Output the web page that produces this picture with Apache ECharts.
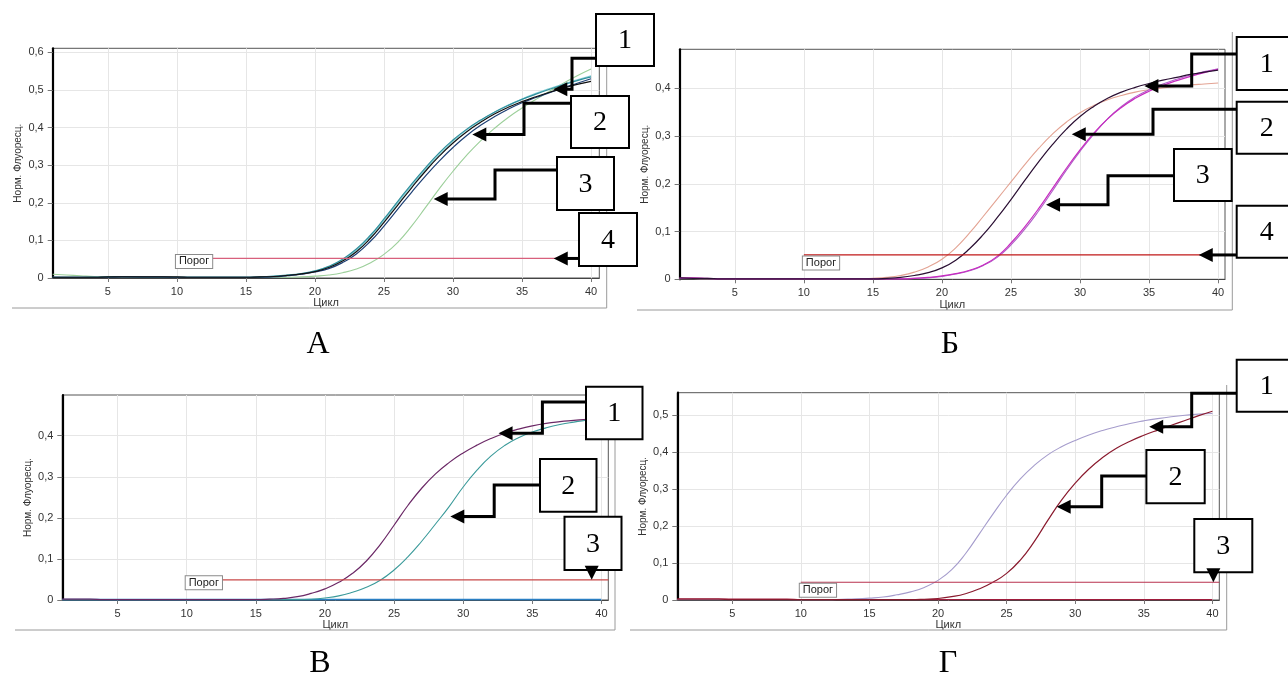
<!DOCTYPE html>
<html>
<head>
<meta charset="utf-8">
<script src="https://cdn.jsdelivr.net/npm/echarts@6/dist/echarts.min.js"></script>
<style>
  html, body { margin: 0; padding: 0; background: #fff; }
  #chart { width: 1288px; height: 688px; }
</style>
</head>
<body>
<div id="chart"></div>
<script>
// ---- data -------------------------------------------------------------
const cycles = [1,2,3,4,5,6,7,8,9,10,11,12,13,14,15,16,17,18,19,20,
                21,22,23,24,25,26,27,28,29,30,31,32,33,34,35,36,37,38,39,40];

const xTickValues = [5, 10, 15, 20, 25, 30, 35, 40];
const yTicksA = [0, 0.1, 0.2, 0.3, 0.4, 0.5, 0.6];
const yTicksB = [0, 0.1, 0.2, 0.3, 0.4];
const yTicksV = [0, 0.1, 0.2, 0.3, 0.4];
const yTicksG = [0, 0.1, 0.2, 0.3, 0.4, 0.5];

const thresholdSpan = [10, 40.5];
const thresholdA = 0.052;
const thresholdB = 0.051;
const thresholdV = 0.049;
const thresholdG = 0.048;

// panel А
const aBlack = [0.002,0.002,0.002,0.002,0.003,0.003,0.003,0.003,0.003,0.003,
                0.002,0.002,0.002,0.002,0.002,0.003,0.004,0.007,0.011,0.017,
                0.028,0.045,0.070,0.105,0.148,0.194,0.240,0.284,0.324,0.359,
                0.389,0.414,0.436,0.454,0.469,0.482,0.494,0.505,0.515,0.523];
const aNavy  = [0.002,0.002,0.002,0.002,0.002,0.003,0.003,0.003,0.003,0.002,
                0.002,0.002,0.002,0.002,0.002,0.002,0.003,0.006,0.010,0.016,
                0.025,0.041,0.064,0.097,0.138,0.183,0.228,0.271,0.311,0.347,
                0.379,0.406,0.429,0.449,0.466,0.480,0.493,0.506,0.518,0.530];
const aTeal  = [0.002,0.002,0.002,0.002,0.003,0.004,0.003,0.002,0.002,0.002,
                0.002,0.002,0.002,0.002,0.002,0.003,0.005,0.008,0.012,0.019,
                0.031,0.050,0.077,0.113,0.157,0.204,0.250,0.293,0.333,0.367,
                0.396,0.420,0.441,0.459,0.475,0.489,0.502,0.514,0.525,0.535];
const aCyan  = [0.002,0.002,0.002,0.002,0.002,0.002,0.002,0.002,0.002,0.002,
                0.002,0.002,0.002,0.002,0.002,0.003,0.004,0.007,0.011,0.018,
                0.030,0.048,0.074,0.110,0.153,0.200,0.246,0.289,0.329,0.364,
                0.394,0.419,0.441,0.460,0.476,0.491,0.504,0.516,0.527,0.538];
const aGreen = [0.010,0.008,0.006,0.004,0.003,0.002,0.002,0.002,0.002,0.002,
                0.002,0.002,0.002,0.002,0.002,0.002,0.002,0.002,0.003,0.005,
                0.008,0.014,0.024,0.040,0.063,0.095,0.138,0.187,0.237,0.284,
                0.327,0.365,0.398,0.427,0.452,0.475,0.497,0.518,0.538,0.556];

// panel Б
const bSalmon  = [0.002,0.002,0.001,0.001,0.001,0.001,0.001,0.001,0.001,0.001,
                  0.001,0.001,0.001,0.001,0.002,0.004,0.008,0.015,0.026,0.042,
                  0.066,0.097,0.132,0.168,0.204,0.240,0.274,0.304,0.329,0.349,
                  0.364,0.376,0.385,0.392,0.397,0.401,0.404,0.407,0.409,0.411];
const bDark    = [0.003,0.002,0.002,0.001,0.001,0.001,0.001,0.001,0.001,0.001,
                  0.001,0.001,0.001,0.001,0.001,0.002,0.004,0.008,0.014,0.024,
                  0.040,0.064,0.094,0.129,0.167,0.207,0.246,0.282,0.314,0.341,
                  0.362,0.379,0.392,0.402,0.410,0.417,0.423,0.429,0.434,0.438];
const bMagenta = [0.003,0.003,0.002,0.001,0.001,0.001,0.001,0.001,0.001,0.001,
                  0.001,0.001,0.001,0.001,0.001,0.001,0.001,0.002,0.004,0.007,
                  0.012,0.019,0.030,0.048,0.076,0.110,0.148,0.190,0.232,0.271,
                  0.306,0.336,0.360,0.379,0.394,0.406,0.416,0.425,0.433,0.440];
const bViolet  = [0.002,0.002,0.001,0.001,0.001,0.001,0.001,0.001,0.001,0.001,
                  0.001,0.001,0.001,0.001,0.001,0.001,0.001,0.002,0.003,0.006,
                  0.011,0.018,0.029,0.046,0.072,0.105,0.143,0.185,0.228,0.268,
                  0.304,0.336,0.362,0.382,0.397,0.409,0.419,0.428,0.435,0.441];

// panel В
const vPurple = [0.002,0.002,0.002,0.001,0.001,0.001,0.001,0.001,0.001,0.001,
                 0.001,0.001,0.001,0.001,0.001,0.002,0.004,0.008,0.016,0.027,
                 0.043,0.065,0.095,0.135,0.182,0.230,0.272,0.307,0.335,0.358,
                 0.377,0.393,0.406,0.416,0.424,0.430,0.434,0.437,0.440,0.442];
const vTeal   = [0.001,0.001,0.001,0.001,0.001,0.001,0.001,0.001,0.001,0.001,
                 0.001,0.001,0.001,0.001,0.001,0.001,0.001,0.001,0.002,0.005,
                 0.010,0.019,0.031,0.048,0.073,0.105,0.143,0.185,0.228,0.275,
                 0.316,0.350,0.376,0.395,0.409,0.419,0.427,0.433,0.438,0.443];
const vNeg    = [0.001,0.001,0.001,0.001,0.001,0.001,0.001,0.001,0.001,0.001,
                 0.001,0.001,0.001,0.001,0.001,0.001,0.001,0.001,0.001,0.001,
                 0.001,0.001,0.001,0.001,0.001,0.001,0.001,0.001,0.001,0.001,
                 0.001,0.001,0.001,0.001,0.001,0.001,0.001,0.001,0.001,0.001];

// panel Г
const gLavender = [0.001,0.001,0.001,0.001,0.001,0.001,0.001,0.001,0.001,0.001,
                   0.001,0.001,0.002,0.003,0.005,0.008,0.014,0.022,0.034,0.053,
                   0.082,0.125,0.178,0.232,0.283,0.327,0.363,0.392,0.414,0.431,
                   0.446,0.458,0.468,0.477,0.484,0.490,0.495,0.499,0.502,0.504];
const gRed      = [0.002,0.002,0.002,0.002,0.001,0.001,0.001,0.001,0.001,0.001,
                   0.001,0.001,0.001,0.001,0.001,0.001,0.001,0.001,0.002,0.004,
                   0.009,0.017,0.030,0.048,0.072,0.108,0.157,0.215,0.270,0.316,
                   0.354,0.385,0.410,0.429,0.445,0.459,0.472,0.485,0.498,0.510];
const gNeg      = [0.003,0.003,0.003,0.003,0.002,0.002,0.002,0.002,0.002,0.001,
                   0.001,0.001,0.001,0.001,0.001,0.001,0.001,0.001,0.001,0.001,
                   0.001,0.001,0.001,0.001,0.001,0.001,0.001,0.001,0.001,0.001,
                   0.001,0.001,0.001,0.001,0.001,0.001,0.001,0.001,0.001,0.001];

// ---- layout & styling -------------------------------------------------
const panels = [
  {
    letter: 'А', letterPos: [318, 345],
    grid: { left: 52.7, top: 48.3, width: 546.6, height: 229.7 },
    xMax: 40.6, yMax: 0.611, yTicks: yTicksA,
    threshold: thresholdA, thrSpan: [10, 40], thrColor: '#d8607c', thrLabelDy: 3,
    curves: [
      { values: aGreen, color: '#9ccf9a', width: 1.1 },
      { values: aCyan,  color: '#86cfd6', width: 1.2 },
      { values: aTeal,  color: '#2f8f9c', width: 1.2 },
      { values: aNavy,  color: '#1d3f74', width: 1.2 },
      { values: aBlack, color: '#111111', width: 1.2 }
    ],
    frame: { right: 606.7, top: 48, bottom: 308, left: 12 },
    callouts: [
      { text: '1', box: [596, 14, 58, 52],  fromY: 58.3,  elbowX: 572, tip: [37.27, 0.502] },
      { text: '2', box: [571, 96, 58, 52],  fromY: 103.3, elbowX: 524, tip: [31.4, 0.382] },
      { text: '3', box: [557, 157, 57, 53], fromY: 170,   elbowX: 495, tip: [28.6, 0.21] },
      { text: '4', box: [579, 213, 58, 53], tip: [37.3, thresholdA] }
    ]
  },
  {
    letter: 'Б', letterPos: [950, 345],
    grid: { left: 679.6, top: 49.3, width: 545.4, height: 230 },
    xMax: 40.5, yMax: 0.4817, yTicks: yTicksB,
    threshold: thresholdB, thrSpan: thresholdSpan, thrColor: '#c01818', thrLabelDy: 8,
    curves: [
      { values: bSalmon,  color: '#e3a393', width: 1.1 },
      { values: bViolet,  color: '#b060c8', width: 1.1 },
      { values: bMagenta, color: '#c72cc0', width: 1.2 },
      { values: bDark,    color: '#2a0f33', width: 1.2 }
    ],
    frame: { right: 1232.3, top: 32, bottom: 310, left: 637 },
    callouts: [
      { text: '1', box: [1236.7, 37, 60, 53],    fromY: 54,    elbowX: 1191.7, tip: [34.66, 0.405] },
      { text: '2', box: [1236.7, 101.7, 60, 52], fromY: 109.3, elbowX: 1153,   tip: [29.4, 0.304] },
      { text: '3', box: [1174, 149, 57.7, 52],   fromY: 175.7, elbowX: 1108,   tip: [27.54, 0.156] },
      { text: '4', box: [1236.7, 205.7, 60, 52], tip: [38.6, thresholdB] }
    ]
  },
  {
    letter: 'В', letterPos: [320, 664],
    grid: { left: 62.3, top: 395, width: 546, height: 205 },
    xMax: 40.5, yMax: 0.499, yTicks: yTicksV,
    threshold: thresholdV, thrSpan: thresholdSpan, thrColor: '#c84848', thrLabelDy: 3,
    curves: [
      { values: vNeg,    color: '#2a7fc4', width: 1.6 },
      { values: vTeal,   color: '#3a9a9a', width: 1.1 },
      { values: vPurple, color: '#6b2866', width: 1.2 }
    ],
    frame: { right: 615, top: 395, bottom: 630, left: 15 },
    callouts: [
      { text: '1', box: [586, 386.7, 56.5, 52.6], fromY: 402,  elbowX: 542.4, tip: [32.56, 0.4056] },
      { text: '2', box: [540, 459, 56.5, 52.7],   fromY: 485,  elbowX: 494.2, tip: [29.07, 0.203] },
      { text: '3', box: [564.5, 516.7, 57, 53.3], down: true, tip: [39.3, thresholdV] }
    ]
  },
  {
    letter: 'Г', letterPos: [948, 664],
    grid: { left: 677.3, top: 392.7, width: 542, height: 207.3 },
    xMax: 40.5, yMax: 0.56, yTicks: yTicksG,
    threshold: thresholdG, thrSpan: thresholdSpan, thrColor: '#b8304e', thrLabelDy: 8,
    curves: [
      { values: gNeg,      color: '#a01c3c', width: 1.4 },
      { values: gLavender, color: '#a59ccc', width: 1.1 },
      { values: gRed,      color: '#8a1a2e', width: 1.2 }
    ],
    frame: { right: 1226.7, top: 385, bottom: 630, left: 630 },
    callouts: [
      { text: '1', box: [1236.7, 359.7, 60, 52],   fromY: 393.3, elbowX: 1191.7, tip: [35.39, 0.468] },
      { text: '2', box: [1146.4, 450, 58.3, 53.3], fromY: 476,   elbowX: 1101.7, tip: [28.65, 0.252] },
      { text: '3', box: [1194.3, 519, 58, 53.3],   down: true, tip: [40.07, thresholdG] }
    ]
  }
];

const sansFont = "'Liberation Sans', Arial, sans-serif";
const serifFont = "'Liberation Serif', 'Times New Roman', serif";
const fmtValue = v => (v === 0 ? '0' : v.toFixed(1).replace('.', ','));

// ---- option -----------------------------------------------------------
const grids = [], xAxes = [], yAxes = [], series = [];

panels.forEach((p, gi) => {
  grids.push(Object.assign({
    show: true, borderColor: '#555', borderWidth: 1, backgroundColor: '#fff', containLabel: false
  }, p.grid));

  xAxes.push({
    type: 'value', gridIndex: gi, min: 1, max: p.xMax,
    name: 'Цикл', nameLocation: 'middle', nameGap: 19,
    nameTextStyle: { fontFamily: sansFont, fontSize: 11, color: '#333' },
    axisLine: { show: true, onZero: false, lineStyle: { color: '#444', width: 1 } },
    axisTick: { show: true, length: 4, customValues: xTickValues, lineStyle: { color: '#777' } },
    axisLabel: { customValues: xTickValues, margin: 8, fontFamily: sansFont, fontSize: 11, color: '#333' },
    splitLine: { show: true, lineStyle: { color: '#e6e6e6', width: 1 } }
  });

  yAxes.push({
    type: 'value', gridIndex: gi, min: 0, max: p.yMax,
    name: 'Норм. Флуоресц.', nameLocation: 'middle', nameGap: 29, nameRotate: 90,
    nameTextStyle: { fontFamily: sansFont, fontSize: 10, color: '#333' },
    axisLine: { show: true, onZero: false, lineStyle: { color: '#000', width: 2.2 } },
    axisTick: { show: true, length: 5, customValues: p.yTicks, lineStyle: { color: '#777' } },
    axisLabel: { customValues: p.yTicks, margin: 9, fontFamily: sansFont, fontSize: 11, color: '#333',
                 formatter: fmtValue },
    splitLine: { show: true, lineStyle: { color: '#e6e6e6', width: 1 } }
  });

  p.curves.forEach(c => {
    series.push({
      type: 'line', xAxisIndex: gi, yAxisIndex: gi,
      data: cycles.map((cy, i) => [cy, c.values[i]]),
      smooth: 0.5, symbol: 'none', silent: true, animation: false, z: 3,
      lineStyle: { color: c.color, width: c.width }
    });
  });

  // threshold line with its "Порог" tag
  series.push({
    type: 'line', xAxisIndex: gi, yAxisIndex: gi, silent: true, animation: false, z: 4,
    showSymbol: true, symbol: 'circle', symbolSize: 0,
    lineStyle: { color: p.thrColor, width: 1.2 },
    data: [
      { value: [p.thrSpan[0], p.threshold],
        label: { show: true, formatter: 'Порог', position: 'right', distance: 0, offset: [-1, p.thrLabelDy],
                 fontFamily: sansFont, fontSize: 11, color: '#222', backgroundColor: '#fff',
                 borderColor: '#8a8a8a', borderWidth: 1, padding: [1, 3, 1, 3] } },
      { value: [p.thrSpan[1], p.threshold] }
    ]
  });
});

const chart = echarts.init(document.getElementById('chart'), null, { renderer: 'canvas' });
chart.setOption({
  animation: false,
  backgroundColor: '#fff',
  grid: grids, xAxis: xAxes, yAxis: yAxes, series: series
});

// ---- frames, panel letters and numbered callouts ---------------------
const graphics = [];
const lineEl = (x1, y1, x2, y2, stroke, w, z) => ({
  type: 'line', silent: true, z: z,
  shape: { x1, y1, x2, y2 }, style: { stroke, lineWidth: w }
});

panels.forEach((p, gi) => {
  const f = p.frame;
  graphics.push(lineEl(f.left, f.bottom, f.right, f.bottom, '#9a9a9a', 1, 1));
  graphics.push(lineEl(f.right, f.top, f.right, f.bottom, '#9a9a9a', 1, 1));

  graphics.push({
    type: 'text', silent: true, z: 10,
    style: { text: p.letter, x: p.letterPos[0], y: p.letterPos[1], align: 'center', verticalAlign: 'middle',
             font: '32px ' + serifFont, fill: '#000' }
  });

  p.callouts.forEach(c => {
    const [bx, by, bw, bh] = c.box;
    const tip = chart.convertToPixel({ gridIndex: gi }, c.tip);
    const head = 14, half = 7;

    if (c.down) {
      graphics.push({
        type: 'rect', silent: true, z: 20,
        shape: { x: bx, y: by, width: bw, height: bh },
        style: { fill: '#fff', stroke: '#000', lineWidth: 2 }
      });
      graphics.push({
        type: 'polygon', silent: true, z: 22,
        shape: { points: [[tip[0] - half, tip[1] - head], [tip[0] + half, tip[1] - head], [tip[0], tip[1]]] },
        style: { fill: '#000' }
      });
    } else {
      let pts;
      if (c.elbowX !== undefined) {
        pts = [[bx, c.fromY], [c.elbowX, c.fromY], [c.elbowX, tip[1]], [tip[0] + head - 1, tip[1]]];
      } else {
        pts = [[bx, tip[1]], [tip[0] + head - 1, tip[1]]];
      }
      graphics.push({
        type: 'polyline', silent: true, z: 18,
        shape: { points: pts },
        style: { stroke: '#000', lineWidth: 3, fill: null, lineJoin: 'miter' }
      });
      graphics.push({
        type: 'polygon', silent: true, z: 19,
        shape: { points: [[tip[0], tip[1]], [tip[0] + head, tip[1] - half], [tip[0] + head, tip[1] + half]] },
        style: { fill: '#000' }
      });
      graphics.push({
        type: 'rect', silent: true, z: 20,
        shape: { x: bx, y: by, width: bw, height: bh },
        style: { fill: '#fff', stroke: '#000', lineWidth: 2 }
      });
    }
    graphics.push({
      type: 'text', silent: true, z: 21,
      style: { text: c.text, x: bx + bw / 2, y: by + bh / 2 + 1, align: 'center', verticalAlign: 'middle',
               font: '28px ' + serifFont, fill: '#000' }
    });
  });
});

chart.setOption({ graphic: graphics });
</script>
</body>
</html>
